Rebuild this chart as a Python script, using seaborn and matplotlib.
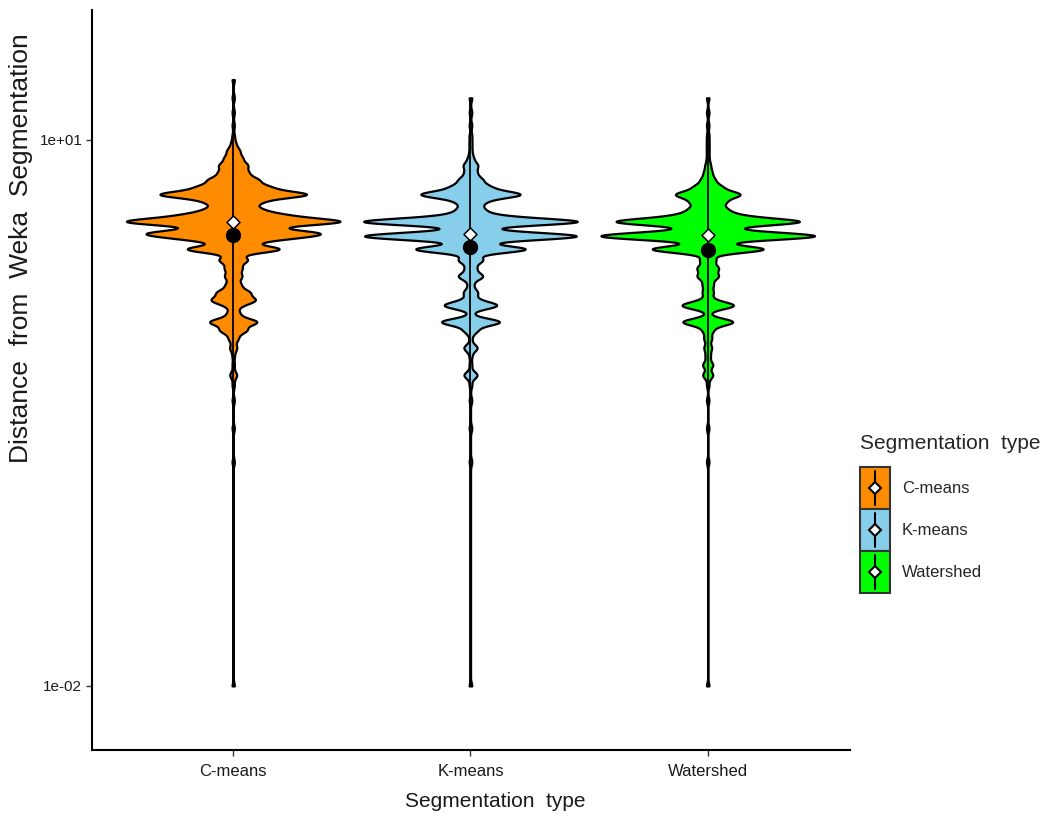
import numpy as np
import pandas as pd
import matplotlib
matplotlib.use("Agg")
import matplotlib.pyplot as plt
import seaborn as sns
from matplotlib.patches import Patch, Rectangle
from matplotlib.lines import Line2D
from matplotlib.legend_handler import HandlerBase
from matplotlib.ticker import NullLocator

methods = ["C-means", "K-means", "Watershed"]
colors = ["#FF8C00", "#87CEEB", "#00FF00"]

# distance levels (log-spaced) and how many cells sit at each level
distance_values = [0.01, 0.17, 0.26, 0.37,
                   0.45, 0.51, 0.58, 0.65, 0.72, 0.81, 0.90, 1.0, 1.11, 1.23,
                   1.32, 1.45, 1.6, 1.78, 1.97, 2.19,
                   2.51, 2.82, 2.95, 3.09, 3.31, 3.55, 3.85, 4.17, 4.57, 5.01,
                   5.5, 6.03, 6.61, 7.24, 7.94,
                   8.71, 9.55, 10.5, 12.0, 14.1, 17.0, 21.4]
cmeans_counts = [1, 1, 1, 1,
                 1, 3, 1, 1, 3, 4, 11, 20, 5, 5,
                 17, 13, 6, 7, 7, 12,
                 40, 20, 25, 55, 10, 85, 35, 18, 20, 60,
                 27, 19, 11, 11, 7,
                 5, 2, 1, 1, 1, 1, 1]
kmeans_counts = [1, 1, 1, 1,
                 1, 5, 1, 1, 5, 1, 5, 22, 1, 19,
                 4, 5, 2, 9, 4, 9,
                 42, 5, 70, 15, 0, 80, 13, 8, 9, 36,
                 13, 8, 4, 5, 2,
                 1, 1, 1, 1, 1, 1, 0]
watershed_counts = [1, 1, 1, 1,
                    1, 4, 4, 2, 3, 3, 4, 20, 1, 20,
                    3, 4, 4, 8, 8, 6,
                    45, 5, 72, 20, 5, 70, 18, 12, 12, 24,
                    10, 5, 3, 2, 1,
                    1, 1, 1, 1, 1, 1, 0]

# summary markers
median_values = [3.55, 3.05, 2.98]
mean_values = [2.98, 2.59, 2.49]


def kde_bandwidth(kde):
    # same kernel width (in log10 units) for every violin
    return 0.019 / np.std(kde.dataset)


class KeyHandler(HandlerBase):
    # ggplot-like key: filled box with a vertical line and an open diamond
    def create_artists(self, legend, orig_handle, xdescent, ydescent, width, height, fontsize, trans):
        rect = Rectangle((-xdescent, -ydescent), width, height, facecolor=orig_handle.get_facecolor(),
                         edgecolor="#333333", linewidth=1.5, transform=trans)
        cx = -xdescent + width / 2
        cy = -ydescent + height / 2
        line = Line2D([cx, cx], [-ydescent + 3, height - ydescent - 3], color="black",
                      linewidth=1.5, transform=trans)
        diamond = Line2D([cx], [cy], marker="D", markersize=6, markerfacecolor="white",
                         markeredgecolor="black", markeredgewidth=1.5, transform=trans)
        return [rect, line, diamond]


def build_frame():
    frames = []
    for name, counts in zip(methods, [cmeans_counts, kmeans_counts, watershed_counts]):
        vals = np.repeat(distance_values, counts)
        frames.append(pd.DataFrame({"Segmentation type": name, "distance": vals}))
    return pd.concat(frames, ignore_index=True)


def main():
    df = build_frame()
    sns.set_style("ticks")
    plt.rcParams["font.family"] = ["Liberation Sans", "DejaVu Sans"]

    fig = plt.figure(figsize=(10.46, 8.18), dpi=100)
    ax = fig.add_axes([0.088, 0.0831, 0.7247, 0.905])

    sns.violinplot(data=df, x="Segmentation type", y="distance", hue="Segmentation type",
                   order=methods, hue_order=methods, palette=dict(zip(methods, colors)),
                   saturation=1, log_scale=True, cut=0, gridsize=3000,
                   bw_method=kde_bandwidth, density_norm="width", width=0.9,
                   inner=None, linewidth=1.6, linecolor="black", legend=False, ax=ax)

    positions = np.arange(len(methods))
    ranges = df.groupby("Segmentation type")["distance"].agg(["min", "max"]).loc[methods]
    ax.vlines(positions, ranges["min"], ranges["max"], color="black", linewidth=1.3, zorder=3)
    ax.scatter(positions, median_values, marker="D", s=44, facecolor="white",
               edgecolor="black", linewidth=1.1, zorder=4)
    ax.scatter(positions, mean_values, marker="o", s=100, color="black", zorder=5)

    ax.set_ylim(10 ** -2.352, 10 ** 1.714)
    ax.set_xlim(-0.595, 2.6)
    ax.set_yticks([0.01, 10])
    ax.set_yticklabels(["1e-02", "1e+01"])
    ax.yaxis.set_minor_locator(NullLocator())

    sns.despine(ax=ax)
    for side in ["left", "bottom"]:
        ax.spines[side].set_linewidth(1.5)
        ax.spines[side].set_color("black")
    ax.tick_params(axis="both", length=4, width=1, color="#333333", labelcolor="#1a1a1a")
    ax.tick_params(axis="y", labelsize=11, pad=3)
    ax.tick_params(axis="x", labelsize=12, pad=6)

    ax.set_xlabel("Segmentation  type", fontsize=15, color="#1a1a1a")
    ax.xaxis.set_label_coords(0.532, -0.057)
    ax.set_ylabel("Distance  from  Weka  Segmentation", fontsize=19, color="#1a1a1a")
    ax.yaxis.set_label_coords(-0.078, 0.678)

    handles = [Patch(facecolor=c) for c in colors]
    leg = fig.legend(handles, methods, title="Segmentation  type", loc="upper left",
                     bbox_to_anchor=(0.819, 0.4735), frameon=False, fontsize=12, title_fontsize=15,
                     handlelength=1.8, handleheight=3.5, labelspacing=0, handletextpad=0.7,
                     borderpad=0.2, borderaxespad=0, alignment="left",
                     handler_map={Patch: KeyHandler()})
    leg._legend_box.sep = 10

    fig.savefig("out.png", dpi=100)


if __name__ == "__main__":
    main()
